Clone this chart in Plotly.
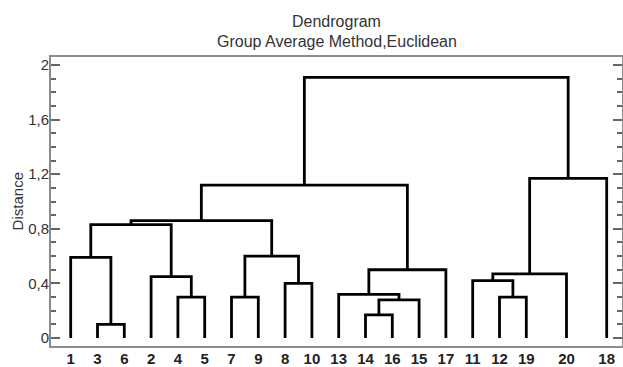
import plotly.graph_objects as go

# ---- data ----
leaf_labels = ['1', '3', '6', '2', '4', '5', '7', '9', '8', '10',
               '13', '14', '16', '15', '17', '11', '12', '19', '20', '18']
leaf_x = [0, 1, 2, 3, 4, 5, 6, 7, 8, 9, 10, 11, 12, 13, 14, 15, 16, 17, 18.5, 20]

# merges: (left child, right child, distance); "cN" refers to the N-th merge
merge_left = ['3', '1', '4', '2', 'c1', '7', '8', 'c5', 'c4', '14', 'c9', '13', 'c11', 'c8',
              '12', '11', 'c15', 'c16', 'c13']
merge_right = ['6', 'c0', '5', 'c2', 'c3', '9', '10', 'c6', 'c7', '16', '15', 'c10', '17', 'c12',
               '19', 'c14', '20', '18', 'c17']
merge_height = [0.10, 0.59, 0.30, 0.45, 0.83, 0.30, 0.40, 0.60, 0.86, 0.17, 0.28, 0.32, 0.50, 1.12,
                0.30, 0.42, 0.47, 1.17, 1.91]

y_tickvals = [0, 0.4, 0.8, 1.2, 1.6, 2.0]
y_ticktext = ['0', '0,4', '0,8', '1,2', '1,6', '2']

# ---- build dendrogram links ----
pos = {lab: (x, 0.0) for lab, x in zip(leaf_labels, leaf_x)}
xs, ys = [], []
for i, (a, b, h) in enumerate(zip(merge_left, merge_right, merge_height)):
    xa, ha = pos[a]
    xb, hb = pos[b]
    xs += [xa, xa, xb, xb, None]
    ys += [ha, h, h, hb, None]
    pos['c%d' % i] = ((xa + xb) / 2.0, h)

FONT = 'Liberation Sans, Arial, sans-serif'

fig = go.Figure()
fig.add_trace(go.Scatter(x=xs, y=ys, mode='lines',
                         line=dict(color='black', width=2.8),
                         hoverinfo='skip', showlegend=False))

fig.update_layout(
    width=623, height=367,
    margin=dict(l=51, r=1, t=57, b=21),
    paper_bgcolor='white', plot_bgcolor='white',
    font=dict(family=FONT, color='#333333'),
    showlegend=False,
)
fig.update_xaxes(
    range=[-0.735, 20.571], automargin=False,
    tickvals=leaf_x, ticktext=leaf_labels,
    tickfont=dict(size=15, color='#222222', family=FONT, weight='bold'),
    ticks='', ticklen=0, ticklabelstandoff=-2,
    showgrid=False, zeroline=False,
    showline=True, linecolor='#8c8c8c', linewidth=2, mirror=True,
)
fig.update_yaxes(
    range=[-0.0586, 2.0587], automargin=False,
    tickvals=y_tickvals, ticktext=y_ticktext,
    tickfont=dict(size=15, color='#333333'),
    ticks='inside', ticklen=9, tickwidth=1.5, tickcolor='#666666',
    ticklabelstandoff=-3,
    minor=dict(tickvals=[v / 10 for v in range(0, 21)], ticks='inside', ticklen=5,
               tickwidth=1.5, tickcolor='#666666', showgrid=False),
    showgrid=False, zeroline=False,
    showline=True, linecolor='#8c8c8c', linewidth=2, mirror='allticks',
)
fig.add_annotation(text='Distance', xref='paper', yref='paper', x=-0.058, y=0.5,
                   xanchor='center', yanchor='middle', textangle=-90, showarrow=False,
                   font=dict(size=15, color='#333333'))
fig.add_annotation(text='Dendrogram', xref='paper', yref='paper', x=0.5, y=1.122,
                   xanchor='center', yanchor='middle', showarrow=False,
                   font=dict(size=16, color='#333333'))
fig.add_annotation(text='Group Average Method,Euclidean', xref='paper', yref='paper', x=0.5, y=1.053,
                   xanchor='center', yanchor='middle', showarrow=False,
                   font=dict(size=16, color='#333333'))

fig.write_html('out.html', config={'displayModeBar': False},
               post_script="document.body.style.margin='0';document.body.style.padding='0';")
